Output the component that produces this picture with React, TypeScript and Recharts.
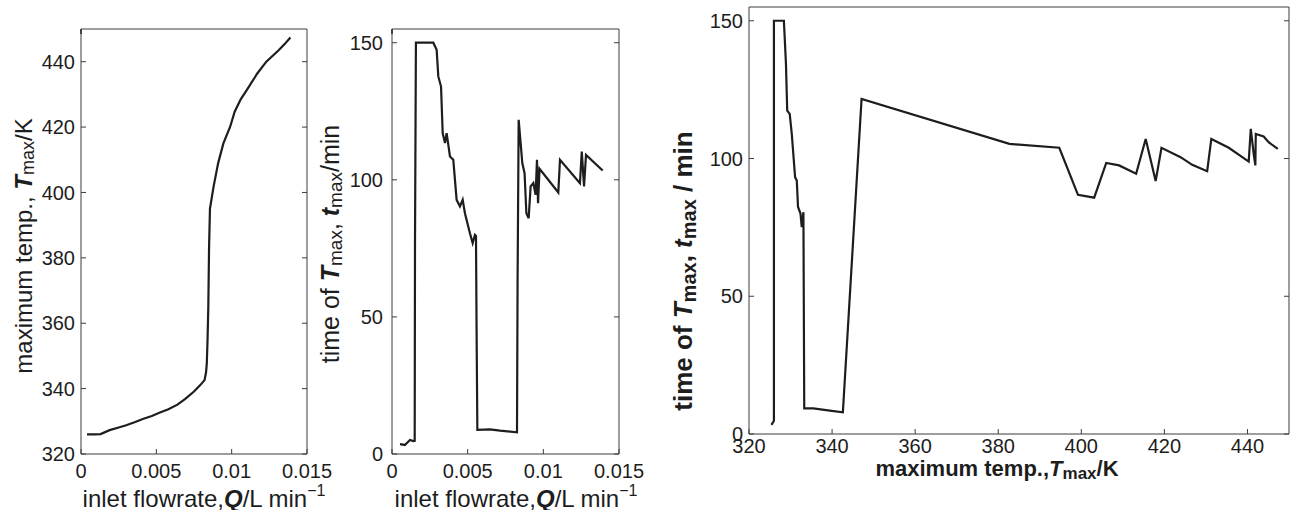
import React from 'react'
import { Line, LineChart, XAxis, YAxis } from 'recharts'

const FONT = '"Liberation Sans", Arial, Helvetica, sans-serif'
const INK = '#1d1d1d'
const AXIS = '#3c3c3c'
const TICK_LEN = 5

// (a) maximum temperature against inlet flowrate
const flowA = [
  0.0004, 0.0009, 0.0013, 0.0019, 0.0025, 0.003, 0.0036, 0.0041, 0.0047, 0.0052, 0.0058, 0.0064,
  0.0069, 0.0075, 0.0079, 0.0082, 0.0083, 0.00835, 0.0084, 0.00845, 0.0085, 0.00856, 0.0087,
  0.0088, 0.0091, 0.00945, 0.0099, 0.0102, 0.0106, 0.011, 0.0117, 0.0123, 0.0131, 0.0135, 0.0139,
]
const tempA = [
  326.0, 326.0, 326.1, 327.3, 328.1, 328.8, 329.8, 330.7, 331.6, 332.6, 333.7, 335.1, 336.8,
  339.1, 341.0, 342.6, 345.0, 347.7, 355, 365, 383.4, 395.1, 399.0, 401.8, 408.9, 415.0, 420.1,
  424.7, 428.5, 431.3, 436.4, 440.0, 443.4, 445.3, 447.4,
]

// (b) time of the maximum against inlet flowrate
const flowB = [
  0.00053, 0.00085, 0.00119, 0.00141, 0.0015, 0.00152, 0.00158, 0.00273, 0.00295, 0.00306,
  0.00324, 0.00335, 0.0035, 0.00361, 0.00372, 0.00383, 0.00405, 0.00427, 0.00449, 0.00467,
  0.00482, 0.00515, 0.00533, 0.00548, 0.00555, 0.00559, 0.00564, 0.00647, 0.00714, 0.00826,
  0.0083, 0.00837, 0.0085, 0.00861, 0.00876, 0.00888, 0.00903, 0.00916, 0.00934, 0.00949,
  0.00958, 0.00965, 0.00975, 0.01099, 0.0111, 0.01242, 0.01254, 0.01269, 0.01282, 0.01392,
]
const timeB = [
  3.6, 3.3, 5.1, 4.7, 4.8, 77, 150, 150, 147.4, 137.7, 134, 117, 113.4, 117, 112.8, 108.5, 107.3,
  92.7, 90.3, 92.7, 87.8, 80.5, 76.9, 79.9, 79.5, 44.6, 8.8, 9.0, 8.5, 7.9, 64.7, 121.9, 113.4,
  106.1, 102.4, 87.8, 86, 97.6, 98.8, 94.5, 107.3, 91.5, 104, 95.4, 107.3, 98.8, 110.3, 97.6,
  109.1, 103.4,
]

// (c) time of the maximum against maximum temperature
const tempC = [
  325.4, 326.0, 326.0, 328.4, 328.9, 329.2, 329.8, 330.3, 331.1, 331.5, 331.8, 332.4, 332.7,
  333.1, 333.3, 335.5, 339, 342.6, 347.1, 382.7, 394.7, 399.2, 403.1, 406.0, 409.1, 413.2,
  415.5, 417.9, 419.3, 423.9, 426.7, 430.3, 431.3, 435.5, 440.3, 440.8, 441.5, 441.9, 442.0,
  443.9, 445.1, 447.3,
]
const timeC = [
  3.3, 4.8, 150, 150, 134.3, 117.4, 116.2, 108.9, 93.2, 92.0, 82.4, 80.0, 75.1, 80.5, 9.3, 9.3,
  8.6, 7.9, 121.6, 105.3, 103.9, 86.8, 85.8, 98.4, 97.5, 94.5, 107.1, 91.8, 103.9, 100.5, 97.7,
  95.4, 107.1, 103.9, 98.9, 110.8, 101.7, 97.5, 108.9, 108.0, 105.9, 103.5,
]

const flowTicks = [0, 0.005, 0.01, 0.015]
const tempTicks = [320, 340, 360, 380, 400, 420, 440]
const timeTicks = [0, 50, 100, 150]

const zip = (xs: number[], ys: number[]) => xs.map((x, i) => ({ x, y: ys[i] }))

type TickArgs = { x: number; y: number; payload: { value: number } }

// recharts only draws ticks outward, so the inward (matlab style) marks are drawn here
const bottomTick = (gap: number, fontSize: number) => (t: TickArgs) => (
  <g>
    <line x1={t.x} x2={t.x} y1={t.y - gap} y2={t.y - gap - TICK_LEN} stroke={AXIS} />
    <text x={t.x} y={t.y} dy="0.71em" textAnchor="middle" fill={INK} fontSize={fontSize} fontFamily={FONT}>
      {String(t.payload.value)}
    </text>
  </g>
)
const leftTick = (gap: number, fontSize: number) => (t: TickArgs) => (
  <g>
    <line x1={t.x + gap} x2={t.x + gap + TICK_LEN} y1={t.y} y2={t.y} stroke={AXIS} />
    <text x={t.x} y={t.y} dy="0.36em" textAnchor="end" fill={INK} fontSize={fontSize} fontFamily={FONT}>
      {String(t.payload.value)}
    </text>
  </g>
)
const topTick = (t: TickArgs) => <line x1={t.x} x2={t.x} y1={t.y} y2={t.y + TICK_LEN} stroke={AXIS} />
const rightTick = (t: TickArgs) => <line x1={t.x} x2={t.x - TICK_LEN} y1={t.y} y2={t.y} stroke={AXIS} />

type PanelProps = {
  left: number
  width: number
  margin: { top: number; right: number; bottom: number; left: number }
  topHeight: number
  rightWidth: number
  data: { x: number; y: number }[]
  xDomain: [number, number]
  yDomain: [number, number]
  xTicks: number[]
  yTicks: number[]
  fontSize: number
  xGap: number
  yGap: number
}

function Panel(p: PanelProps) {
  return (
    <div style={{ position: 'absolute', left: p.left, top: 0 }}>
      <LineChart width={p.width} height={510} data={p.data} margin={p.margin}>
        <XAxis
          xAxisId="b"
          dataKey="x"
          type="number"
          domain={p.xDomain}
          ticks={p.xTicks}
          allowDataOverflow
          interval={0}
          height={50}
          tickLine={false}
          tickSize={0}
          tickMargin={p.xGap}
          stroke={AXIS}
          tick={bottomTick(p.xGap, p.fontSize)}
        />
        <XAxis
          xAxisId="t"
          orientation="top"
          type="number"
          domain={p.xDomain}
          ticks={p.xTicks}
          allowDataOverflow
          interval={0}
          height={p.topHeight}
          tickLine={false}
          tickSize={0}
          tickMargin={0}
          tick={topTick}
          stroke={AXIS}
        />
        <YAxis
          yAxisId="l"
          type="number"
          domain={p.yDomain}
          ticks={p.yTicks}
          allowDataOverflow
          interval={0}
          width={60}
          tickLine={false}
          tickSize={0}
          tickMargin={p.yGap}
          stroke={AXIS}
          tick={leftTick(p.yGap, p.fontSize)}
        />
        <YAxis
          yAxisId="r"
          orientation="right"
          type="number"
          domain={p.yDomain}
          ticks={p.yTicks}
          allowDataOverflow
          interval={0}
          width={p.rightWidth}
          tickLine={false}
          tickSize={0}
          tickMargin={0}
          tick={rightTick}
          stroke={AXIS}
        />
        <Line
          xAxisId="b"
          yAxisId="l"
          type="linear"
          dataKey="y"
          stroke={INK}
          strokeWidth={2.2}
          dot={false}
          isAnimationActive={false}
        />
      </LineChart>
    </div>
  )
}

function Titles() {
  return (
    <svg
      width={1296}
      height={510}
      style={{ position: 'absolute', left: 0, top: 0, pointerEvents: 'none' }}
      fontFamily={FONT}
      fill={INK}
    >
      <text transform="translate(23,246) rotate(-90)" textAnchor="middle" dominantBaseline="central" fontSize={24}>
        {'maximum temp., '}
        <tspan fontWeight="bold" fontStyle="italic">T</tspan>
        <tspan fontSize={18} dy={5}>max</tspan>
        <tspan dy={-5}>/K</tspan>
      </text>
      <text x={204} y={498} textAnchor="middle" dominantBaseline="central" fontSize={24}>
        {'inlet flowrate,'}
        <tspan fontWeight="bold" fontStyle="italic">Q</tspan>
        <tspan>/L min</tspan>
        <tspan fontSize={16} dy={-8}>−1</tspan>
      </text>

      <text transform="translate(330,244) rotate(-90)" textAnchor="middle" dominantBaseline="central" fontSize={25}>
        {'time of '}
        <tspan fontWeight="bold" fontStyle="italic">T</tspan>
        <tspan fontSize={19} dy={5}>max</tspan>
        <tspan dy={-5}>{', '}</tspan>
        <tspan fontWeight="bold" fontStyle="italic">t</tspan>
        <tspan fontSize={19} dy={5}>max</tspan>
        <tspan dy={-5}>/min</tspan>
      </text>
      <text x={516} y={498} textAnchor="middle" dominantBaseline="central" fontSize={24}>
        {'inlet flowrate,'}
        <tspan fontWeight="bold" fontStyle="italic">Q</tspan>
        <tspan>/L min</tspan>
        <tspan fontSize={16} dy={-8}>−1</tspan>
      </text>

      <text transform="translate(683,271) rotate(-90)" textAnchor="middle" dominantBaseline="central" fontSize={26} fontWeight="bold">
        {'time of '}
        <tspan fontStyle="italic">T</tspan>
        <tspan fontSize={20} dy={6}>max</tspan>
        <tspan dy={-6}>{', '}</tspan>
        <tspan fontStyle="italic">t</tspan>
        <tspan fontSize={20} dy={6}>max</tspan>
        <tspan dy={-6}>{' / min'}</tspan>
      </text>
      <text x={997} y={468} textAnchor="middle" dominantBaseline="central" fontSize={22} fontWeight="bold">
        {'maximum temp.,'}
        <tspan fontStyle="italic">T</tspan>
        <tspan fontSize={17} dy={5}>max</tspan>
        <tspan dy={-5}>/K</tspan>
      </text>
    </svg>
  )
}

export default function App() {
  return (
    <div style={{ position: 'absolute', left: 0, top: 0, width: 1296, height: 510, background: '#fff' }}>
      <Panel
        left={0}
        width={345}
        margin={{ top: 19, right: 28, bottom: 6, left: 21 }}
        topHeight={10}
        rightWidth={10}
        data={zip(flowA, tempA)}
        xDomain={[0, 0.015]}
        yDomain={[320, 450]}
        xTicks={flowTicks}
        yTicks={tempTicks}
        fontSize={20}
        xGap={10}
        yGap={6}
      />
      <Panel
        left={310}
        width={340}
        margin={{ top: 19, right: 21, bottom: 6, left: 22 }}
        topHeight={10}
        rightWidth={10}
        data={zip(flowB, timeB)}
        xDomain={[0, 0.015]}
        yDomain={[0, 155]}
        xTicks={flowTicks}
        yTicks={timeTicks}
        fontSize={20}
        xGap={10}
        yGap={9}
      />
      <Panel
        left={650}
        width={646}
        margin={{ top: 2, right: 2, bottom: 26, left: 39 }}
        topHeight={5}
        rightWidth={5}
        data={zip(tempC, timeC)}
        xDomain={[320, 450]}
        yDomain={[0, 155]}
        xTicks={tempTicks}
        yTicks={timeTicks}
        fontSize={20}
        xGap={5}
        yGap={6}
      />
      <Titles />
    </div>
  )
}
